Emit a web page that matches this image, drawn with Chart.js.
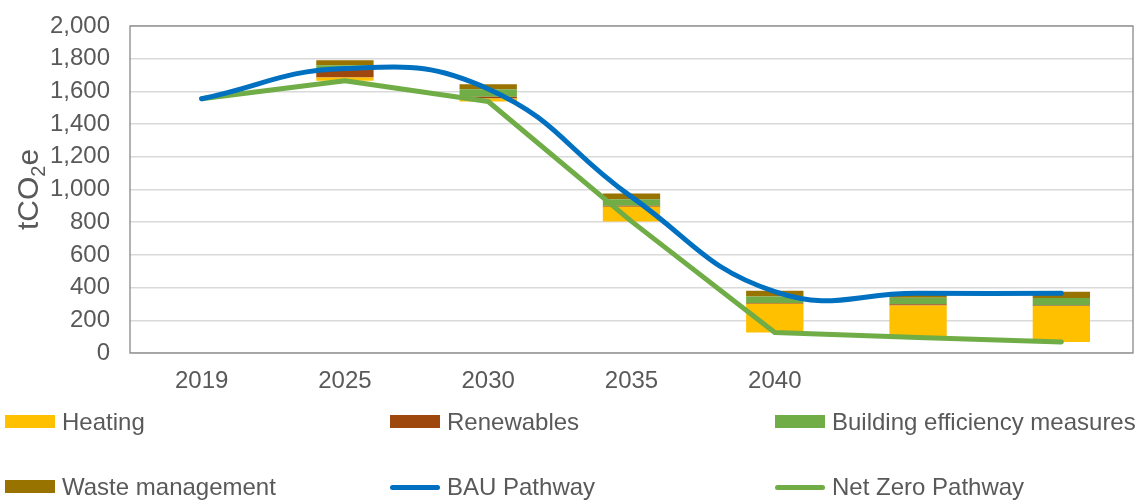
<!DOCTYPE html>
<html>
<head>
<meta charset="utf-8">
<script src="https://cdn.jsdelivr.net/npm/chart.js@4.4.1/dist/chart.umd.min.js"></script>
<style>
  html, body { margin: 0; padding: 0; background: #fff; }
  #wrap { position: relative; width: 1143px; height: 500px; }
  canvas { position: absolute; left: 0; top: 0; }
  .legend-item { position: absolute; font-family: "Liberation Sans", Arial, sans-serif; font-size: 24px; color: #595959; line-height: 28px; white-space: nowrap; }
  .swatch { position: absolute; }
</style>
</head>
<body>
<div id="wrap">
  <canvas id="chart" width="1143" height="500"></canvas>
  <div id="legend"></div>
</div>
<script>
// Years along the x axis (the last two columns have no label)
const categories = ['2019', '2025', '2030', '2035', '2040', '', ''];

// Emission pathways, tCO2e
const bauPathway = [1555, 1740, 1615, 955, 375, 365, 365];
const netZeroPathway = [1555, 1665, 1538, 805, 126, 95, 68];

// Abatement wedges stacked on top of the net zero pathway, tCO2e
const heating = [null, 20, 18, 90, 175, 195, 220];
const renewables = [null, 55, 12, 6, 5, 8, 3];
const efficiency = [null, 20, 45, 39, 40, 40, 45];
const wasteManagement = [null, 30, 31, 35, 35, 30, 39];

// Y axis ticks
const yTicks = [0, 200, 400, 600, 800, 1000, 1200, 1400, 1600, 1800, 2000];

const COLORS = {
  heating: '#ffc000',
  renewables: '#9e480e',
  efficiency: '#70ad47',
  waste: '#997300',
  bau: '#0070c0',
  netZero: '#70ad47'
};

// invisible base so the wedges start at the net zero pathway
const base = netZeroPathway.map((v, i) => (heating[i] == null ? null : v));

const FONT = '"Liberation Sans", Arial, sans-serif';
const TEXT = '#595959';

// frame around the plot area and the rotated axis title with subscript
const framePlugin = {
  id: 'frame',
  beforeDatasetsDraw(chart) {
    const { ctx, chartArea: a } = chart;
    ctx.save();
    ctx.strokeStyle = '#898989';
    ctx.lineWidth = 1.3;
    ctx.strokeRect(a.left, a.top, a.right - a.left, a.bottom - a.top);
    ctx.restore();
  },
  afterDraw(chart) {
    const { ctx, chartArea: a } = chart;
    ctx.save();
    ctx.translate(30, (a.top + a.bottom) / 2);
    ctx.rotate(-Math.PI / 2);
    ctx.fillStyle = TEXT;
    ctx.textBaseline = 'middle';
    const big = '30px ' + FONT, small = '20px ' + FONT;
    ctx.font = big;
    const w1 = ctx.measureText('tCO').width;
    const w3 = ctx.measureText('e').width;
    ctx.font = small;
    const w2 = ctx.measureText('2').width;
    let x = -(w1 + w2 + w3) / 2;
    ctx.font = big;
    ctx.fillText('tCO', x, 0);
    x += w1;
    ctx.font = small;
    ctx.fillText('2', x, 9);
    x += w2;
    ctx.font = big;
    ctx.fillText('e', x, 0);
    ctx.restore();
  }
};

const barCommon = { type: 'bar', stack: 'wedges', barPercentage: 0.4, categoryPercentage: 1.0, borderWidth: 0 };

new Chart(document.getElementById('chart'), {
  data: {
    labels: categories,
    datasets: [
      { type: 'line', label: 'BAU Pathway', data: bauPathway, stack: 'bau', borderColor: COLORS.bau, borderWidth: 5, tension: 0.45, pointRadius: 0, borderCapStyle: 'round', fill: false },
      { type: 'line', label: 'Net Zero Pathway', data: netZeroPathway, stack: 'nz', borderColor: COLORS.netZero, borderWidth: 5, tension: 0, pointRadius: 0, borderCapStyle: 'round', borderJoinStyle: 'round', fill: false },
      { ...barCommon, label: 'base', data: base, backgroundColor: 'rgba(0,0,0,0)' },
      { ...barCommon, label: 'Heating', data: heating, backgroundColor: COLORS.heating },
      { ...barCommon, label: 'Renewables', data: renewables, backgroundColor: COLORS.renewables },
      { ...barCommon, label: 'Building efficiency measures', data: efficiency, backgroundColor: COLORS.efficiency },
      { ...barCommon, label: 'Waste management', data: wasteManagement, backgroundColor: COLORS.waste }
    ]
  },
  options: {
    responsive: false,
    animation: false,
    layout: { padding: { left: 0, top: 26, right: 10, bottom: 100 } },
    plugins: { legend: { display: false }, tooltip: { enabled: false } },
    scales: {
      x: {
        stacked: true,
        grid: { display: false, drawTicks: false },
        border: { display: false },
        ticks: { color: TEXT, font: { family: FONT, size: 24 }, padding: 14, maxRotation: 0, autoSkip: false },
        afterFit(scale) { scale.height = 47; }
      },
      y: {
        stacked: true,
        min: 0,
        max: 2000,
        afterBuildTicks(scale) { scale.ticks = yTicks.map(v => ({ value: v })); },
        grid: { color: '#d9d9d9', lineWidth: 1.5, drawTicks: false },
        border: { display: false },
        ticks: {
          color: TEXT,
          font: { family: FONT, size: 24 },
          padding: 20,
          callback: v => Number(v).toLocaleString('en-US')
        },
        afterFit(scale) {
          scale.width = 130;
          scale.paddingTop = 0;
          scale.paddingBottom = 0;
        }
      }
    }
  },
  plugins: [framePlugin]
});

// legend laid out in three columns under the chart
const legendItems = [
  { label: 'Heating', color: COLORS.heating, kind: 'box', col: 0, row: 0 },
  { label: 'Renewables', color: COLORS.renewables, kind: 'box', col: 1, row: 0 },
  { label: 'Building efficiency measures', color: COLORS.efficiency, kind: 'box', col: 2, row: 0 },
  { label: 'Waste management', color: COLORS.waste, kind: 'box', col: 0, row: 1 },
  { label: 'BAU Pathway', color: COLORS.bau, kind: 'line', col: 1, row: 1 },
  { label: 'Net Zero Pathway', color: COLORS.netZero, kind: 'line', col: 2, row: 1 }
];
const legend = document.getElementById('legend');
legendItems.forEach(it => {
  const x = 5 + it.col * 385;
  const cy = 422 + it.row * 65;
  const sw = document.createElement('div');
  sw.className = 'swatch';
  if (it.kind === 'box') {
    Object.assign(sw.style, { left: x + 'px', top: (cy - 7) + 'px', width: '50px', height: '13px', background: it.color });
  } else {
    Object.assign(sw.style, { left: x + 'px', top: (cy - 2.5) + 'px', width: '50px', height: '5px', background: it.color, borderRadius: '3px' });
  }
  legend.appendChild(sw);
  const t = document.createElement('div');
  t.className = 'legend-item';
  t.textContent = it.label;
  Object.assign(t.style, { left: (x + 57) + 'px', top: (cy - 14) + 'px' });
  legend.appendChild(t);
});
</script>
</body>
</html>
